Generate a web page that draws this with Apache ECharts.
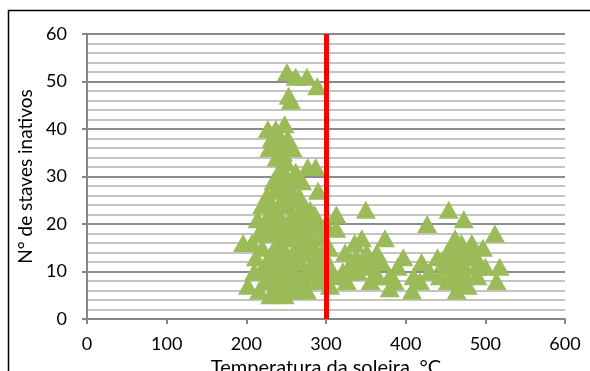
<!DOCTYPE html>
<html>
<head>
<meta charset="utf-8">
<script src="https://cdn.jsdelivr.net/npm/echarts@6/dist/echarts.min.js"></script>
<style>
  html, body { margin: 0; padding: 0; background: #fff; }
  #chart { width: 590px; height: 371px; }
</style>
</head>
<body>
<div id="chart"></div>
<script>
// Temperatura da soleira (°C) vs N° de staves inativos
const upperPoints = [
  [251, 52], [262, 51], [276, 51], [289, 49], [253, 47], [256, 46],
  [227, 40], [237, 40], [248, 41], [232, 38], [242, 37], [252, 38],
  [229, 36], [246, 35], [258, 36], [238, 34], [250, 33],
  [277, 32], [287, 32], [262, 31], [290, 27], [270, 29]
];

const leftCluster = [
  [240, 30], [248, 28], [236, 27], [256, 27], [244, 25], [232, 24], [252, 24],
  [262, 25], [228, 22], [240, 22], [258, 22], [270, 22], [222, 20], [234, 20],
  [248, 20], [262, 19], [277, 20], [289, 19], [216, 18], [230, 18], [244, 17],
  [256, 17], [268, 17], [282, 16], [292, 17], [196, 16], [207, 16], [220, 15],
  [236, 15], [250, 14], [262, 15], [276, 14], [296, 14], [212, 13], [226, 12],
  [240, 12], [254, 12], [268, 12], [284, 12], [218, 10], [232, 10], [246, 10],
  [260, 10], [280, 11], [298, 10], [202, 7], [224, 8], [238, 7], [252, 8],
  [266, 7], [278, 9], [292, 8], [230, 5], [244, 6], [258, 6], [272, 8],
  [226, 26], [250, 30], [244, 32], [234, 29], [258, 29], [266, 26], [272, 24],
  [280, 23], [226, 18], [238, 19], [252, 18], [264, 21], [274, 18], [286, 22],
  [214, 21], [220, 24], [232, 14], [246, 13], [258, 13], [272, 15], [288, 14],
  [210, 10], [224, 11], [236, 9], [250, 11], [264, 9], [286, 9], [216, 6],
  [234, 6], [248, 5], [262, 7], [276, 6], [240, 16], [254, 20], [268, 14], [294, 12]
];

const rightCluster = [
  [304, 15], [305, 11], [313, 22], [313, 19], [310, 9], [321, 10], [324, 14],
  [338, 13], [345, 17], [350, 23], [351, 14], [326, 8], [330, 10], [360, 12],
  [364, 14], [374, 17], [380, 6.5], [390, 11], [397, 13], [408, 6], [420, 12],
  [418, 8], [427, 20], [443, 9], [451, 11], [454, 23], [457, 15], [464, 11],
  [464, 6], [470, 16], [473, 21], [476, 9], [483, 16], [489, 11], [497, 15],
  [512, 18], [514, 8], [518, 11], [440, 13], [460, 13], [480, 13], [470, 8],
  [490, 9], [500, 11], [453, 8], [365, 9], [340, 10], [345, 12], [355, 11],
  [380, 9], [300, 20], [305, 7],
  [448, 12], [458, 9], [468, 13], [474, 11], [486, 13], [492, 12], [462, 17],
  [476, 14], [452, 14], [466, 10], [478, 7], [336, 16], [332, 12], [356, 8],
  [370, 12], [386, 8], [430, 10], [410, 9]
];

const limitTemp = 300;

const chart = echarts.init(document.getElementById('chart'));
const font = 'Lato, "Noto Sans", sans-serif';

chart.setOption({
  animation: false,
  graphic: [{
    type: 'rect',
    shape: { x: 8.5, y: 10.5, width: 700, height: 500 },
    style: { fill: 'none', stroke: '#000', lineWidth: 1.5 },
    silent: true
  }],
  grid: { left: 87, right: 25, top: 34, bottom: 52, outerBoundsMode: 'none', containLabel: false },
  xAxis: {
    type: 'value',
    min: 0,
    max: 600,
    interval: 100,
    name: 'Temperatura da soleira, °C',
    nameLocation: 'middle',
    nameGap: 29,
    nameTextStyle: { fontFamily: font, fontSize: 20, color: '#000' },
    axisLabel: { fontFamily: font, fontSize: 18, color: '#000', margin: 16 },
    axisLine: { lineStyle: { color: '#868686', width: 2 } },
    axisTick: { show: true, length: 5, lineStyle: { color: '#868686', width: 2 } },
    splitLine: { show: false }
  },
  yAxis: {
    type: 'value',
    min: 0,
    max: 60,
    interval: 10,
    name: 'N° de staves inativos',
    nameLocation: 'middle',
    nameGap: 51,
    nameTextStyle: { fontFamily: font, fontSize: 19, color: '#000' },
    axisLabel: { fontFamily: font, fontSize: 18, color: '#000', margin: 20 },
    axisLine: { show: true, lineStyle: { color: '#868686', width: 2 } },
    axisTick: { show: true, length: 5, lineStyle: { color: '#868686', width: 2 } },
    splitLine: { lineStyle: { color: '#8c8c8c', width: 2 } },
    minorTick: { show: false, splitNumber: 5 },
    minorSplitLine: { show: true, lineStyle: { color: '#c4c4c4', width: 2 } }
  },
  series: [{
    type: 'scatter',
    symbol: 'triangle',
    symbolSize: [20, 18],
    itemStyle: { color: '#9bbb59', opacity: 1 },
    data: [...upperPoints, ...leftCluster, ...rightCluster],
    markLine: {
      silent: true,
      symbol: 'none',
      label: { show: false },
      lineStyle: { color: '#ff0000', width: 5, type: 'solid' },
      data: [{ xAxis: limitTemp }]
    },
    z: 2
  }]
});
</script>
</body>
</html>
